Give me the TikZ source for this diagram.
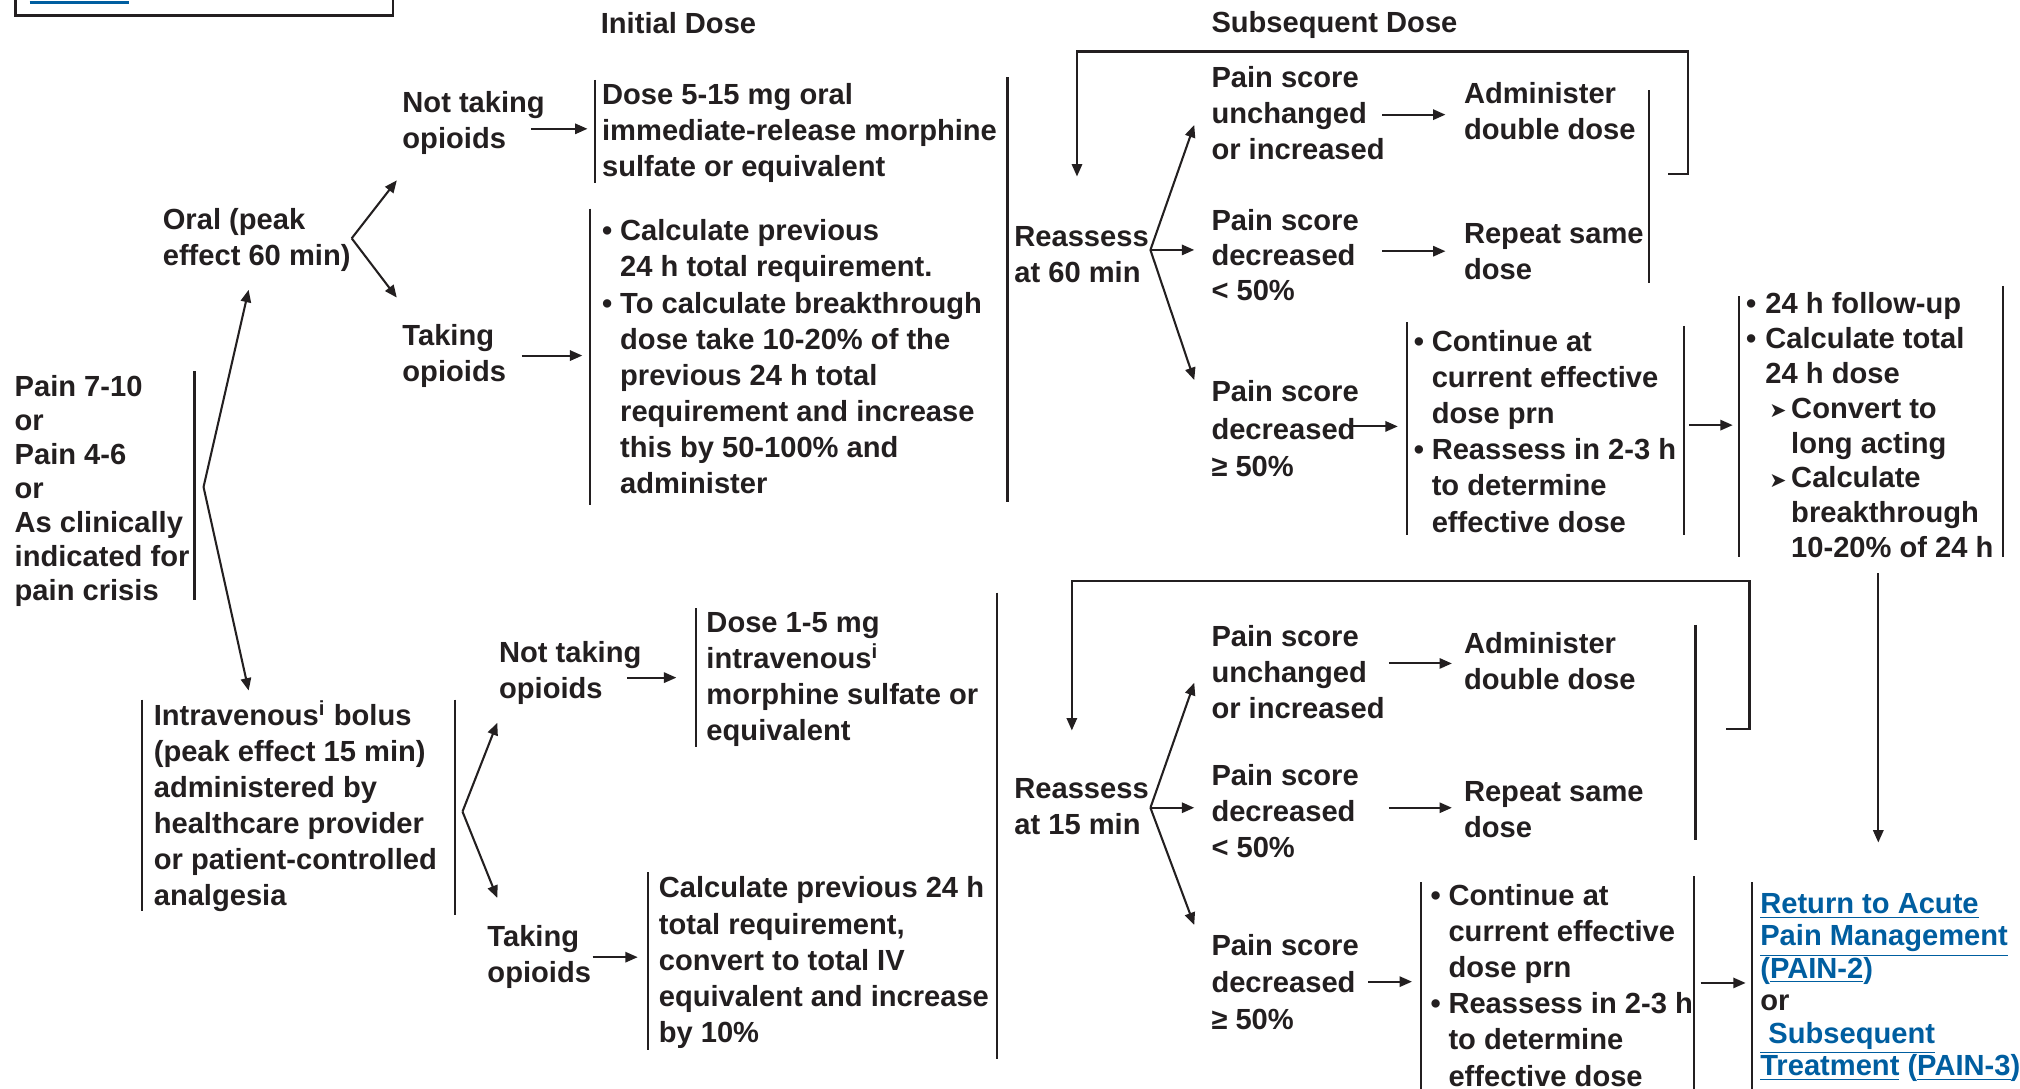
\documentclass[tikz,border=0pt]{standalone}
\usepackage{fontspec}
\setmainfont{Liberation Sans}
\newfontfamily\djv{DejaVu Sans}
\usetikzlibrary{arrows.meta}
\definecolor{ink}{RGB}{35,31,32}
\definecolor{linkblue}{RGB}{0,94,160}
\newcommand\mybul{\makebox[7pt][l]{\textbullet}}
\newcommand\myind{\hspace*{7pt}}
\newcommand\mytri{\makebox[8.5pt][l]{\raisebox{0.3pt}{\djv\fontsize{8}{8}\selectfont ➤}}}
\begin{document}
\begin{tikzpicture}[x=0.5pt,y=-0.5pt,
  txt/.style={anchor=base west, align=left, inner sep=0pt, text=ink,
    font=\fontsize{11.3}{14}\selectfont\bfseries},
  bar/.style={draw=ink, line width=0.9pt},
  arr/.style={draw=ink, line width=0.8pt, -{Triangle[length=4.8pt,width=4pt]}},
  lnk/.style={draw=ink, line width=0.8pt}]
\useasboundingbox (0,0) rectangle (1568,845);
\fill[white] (0,0) rectangle (1568,845);
% partial box at top left
\draw[draw=ink, line width=1pt] (12,-10) -- (12,12) -- (305,12) -- (305,-10);
\draw[linkblue, line width=1pt] (23,2) -- (100,2);
\draw[linkblue, line width=0.9pt] (18,-4) arc[start angle=180, end angle=270, radius=5];
\draw[linkblue, line width=0.9pt] (106,-4) arc[start angle=0, end angle=-90, radius=5];

% headers
\node[txt] (h1) at (466,26) {Initial Dose};
\node[txt] (h2) at (940,25) {Subsequent Dose};

% ---------- left ----------
\node[txt, font=\fontsize{11.3}{13.2}\selectfont\bfseries] (pain) at (11,466)
  {Pain 7-10\\or\\Pain 4-6\\or\\As clinically\\indicated for\\pain crisis};
\draw[bar] (151,288) -- (151,466);
\coordinate (fk0) at (158,378);
\coordinate (oralin) at (193,225);
\coordinate (ivin) at (193,536);
\draw[arr] (fk0) -- (oralin);
\draw[arr] (fk0) -- (ivin);

% ---------- oral branch ----------
\node[txt] (oral) at (126,206) {Oral (peak\\effect 60 min)};
\coordinate (fk1) at (273,185);
\coordinate (nt1in) at (308,140);
\coordinate (t1in) at (308,231);
\draw[arr] (fk1) -- (nt1in);
\draw[arr] (fk1) -- (t1in);

\node[txt] (nt1) at (312,115) {Not taking\\opioids};
\coordinate (nt1out) at (412,100);
\coordinate (d1in) at (456,100);
\draw[arr] (nt1out) -- (d1in);
\draw[bar] (462,62) -- (462,142);
\node[txt] (d1) at (467,137) {Dose 5-15 mg oral\\immediate-release morphine\\sulfate or equivalent};

\node[txt] (t1) at (312,296) {Taking\\opioids};
\coordinate (t1out) at (405,276);
\coordinate (c1in) at (452,276);
\draw[arr] (t1out) -- (c1in);
\draw[bar] (458,162) -- (458,392);
\node[txt] (c1) at (467,383) {\mybul Calculate previous\\\myind 24 h total requirement.\\\mybul To calculate breakthrough\\\myind dose take 10-20\% of the\\\myind previous 24 h total\\\myind requirement and increase\\\myind this by 50-100\% and\\\myind administer};

\draw[bar] (782,60) -- (782,390);
\node[txt] (r60) at (787,219) {Reassess\\at 60 min};
\coordinate (fk2) at (893,194);
\coordinate (u1in) at (927,97);
\coordinate (l1in) at (927,194);
\coordinate (g1in) at (927,295);
\draw[arr] (fk2) -- (u1in);
\draw[arr] (fk2) -- (l1in);
\draw[arr] (fk2) -- (g1in);

\node[txt] (u1) at (940,124) {Pain score\\unchanged\\or increased};
\coordinate (u1out) at (1073,89);
\coordinate (a1in) at (1122,89);
\draw[arr] (u1out) -- (a1in);
\node[txt] (a1) at (1136,108) {Administer\\double dose};

\node[txt, font=\fontsize{11.3}{13.6}\selectfont\bfseries] (l1) at (940,233) {Pain score\\decreased\\< 50\%};
\coordinate (l1out) at (1073,195);
\coordinate (s1in) at (1122,195);
\draw[arr] (l1out) -- (s1in);
\node[txt] (s1) at (1136,217) {Repeat same\\dose};
\draw[bar] (1280,70) -- (1280,220);

\coordinate (lp1a) at (1295,135);
\coordinate (lp1b) at (836,137);
\draw[lnk, -{Triangle[length=4.8pt,width=4pt]}] (lp1a) -- (1310,135) -- (1310,40) -- (836,40) -- (lp1b);

\node[txt, font=\fontsize{11.3}{14.5}\selectfont\bfseries] (g1) at (940,370) {Pain score\\decreased\\≥ 50\%};
\coordinate (g1out) at (1047,331);
\coordinate (e1in) at (1085,331);
\draw[arr] (g1out) -- (e1in);
\draw[bar] (1092,250) -- (1092,415);
\node[txt] (e1) at (1097,413) {\mybul Continue at\\\myind current effective\\\myind dose prn\\\mybul Reassess in 2-3 h\\\myind to determine\\\myind effective dose};
\draw[bar] (1307,253) -- (1307,415);
\coordinate (e1out) at (1311,330);
\coordinate (f1in) at (1345,330);
\draw[arr] (e1out) -- (f1in);
\draw[bar] (1350,230) -- (1350,432);
\node[txt, font=\fontsize{11.3}{13.55}\selectfont\bfseries] (f1) at (1355,433)
  {\makebox[7.5pt][l]{\textbullet}24 h follow-up\\\makebox[7.5pt][l]{\textbullet}Calculate total\\\hspace*{7.5pt}24 h dose\\\hspace*{9pt}\mytri Convert to\\\hspace*{17.5pt}long acting\\\hspace*{9pt}\mytri Calculate\\\hspace*{17.5pt}breakthrough\\\hspace*{17.5pt}10-20\% of 24 h};
\draw[bar] (1555,222) -- (1555,432);
\coordinate (f1out) at (1458,445);
\coordinate (rtin) at (1458,654);
\draw[arr] (f1out) -- (rtin);

% ---------- IV branch ----------
\draw[bar] (110,543) -- (110,707);
\node[txt] (iv) at (119,703) {Intravenous\textsuperscript{i} bolus\\(peak effect 15 min)\\administered by\\healthcare provider\\or patient-controlled\\analgesia};
\draw[bar] (353,543) -- (353,710);
\coordinate (fk3) at (359,630);
\coordinate (nt2in) at (386,561);
\coordinate (t2in) at (386,697);
\draw[arr] (fk3) -- (nt2in);
\draw[arr] (fk3) -- (t2in);

\node[txt] (nt2) at (387,542) {Not taking\\opioids};
\coordinate (nt2out) at (487,526);
\coordinate (d2in) at (525,526);
\draw[arr] (nt2out) -- (d2in);
\draw[bar] (540,472) -- (540,580);
\node[txt] (d2) at (548,575) {Dose 1-5 mg\\intravenous\textsuperscript{i}\\morphine sulfate or\\equivalent};

\node[txt] (t2) at (378,763) {Taking\\opioids};
\coordinate (t2out) at (460,743);
\coordinate (c2in) at (495,743);
\draw[arr] (t2out) -- (c2in);
\draw[bar] (503,677) -- (503,815);
\node[txt] (c2) at (511,809) {Calculate previous 24 h\\total requirement,\\convert to total IV\\equivalent and increase\\by 10\%};

\draw[bar] (774,460) -- (774,822);
\node[txt] (r15) at (787,648) {Reassess\\at 15 min};
\coordinate (fk4) at (893,627);
\coordinate (u2in) at (927,530);
\coordinate (l2in) at (927,627);
\coordinate (g2in) at (927,718);
\draw[arr] (fk4) -- (u2in);
\draw[arr] (fk4) -- (l2in);
\draw[arr] (fk4) -- (g2in);

\node[txt] (u2) at (940,558) {Pain score\\unchanged\\or increased};
\coordinate (u2out) at (1078,515);
\coordinate (a2in) at (1127,515);
\draw[arr] (u2out) -- (a2in);
\node[txt] (a2) at (1136,535) {Administer\\double dose};

\node[txt] (l2) at (940,666) {Pain score\\decreased\\< 50\%};
\coordinate (l2out) at (1078,627);
\coordinate (s2in) at (1127,627);
\draw[arr] (l2out) -- (s2in);
\node[txt] (s2) at (1136,650) {Repeat same\\dose};
\draw[bar] (1316,485) -- (1316,652);

\coordinate (lp2a) at (1340,566);
\coordinate (lp2b) at (832,567);
\draw[lnk, -{Triangle[length=4.8pt,width=4pt]}] (lp2a) -- (1358,566) -- (1358,451) -- (832,451) -- (lp2b);

\node[txt, font=\fontsize{11.3}{14.3}\selectfont\bfseries] (g2) at (940,799) {Pain score\\decreased\\≥ 50\%};
\coordinate (g2out) at (1062,762);
\coordinate (e2in) at (1096,762);
\draw[arr] (g2out) -- (e2in);
\draw[bar] (1103,685) -- (1103,850);
\node[txt] (e2) at (1110,843) {\mybul Continue at\\\myind current effective\\\myind dose prn\\\mybul Reassess in 2-3 h\\\myind to determine\\\myind effective dose};
\draw[bar] (1315,680) -- (1315,850);
\coordinate (e2out) at (1320,763);
\coordinate (rtin2) at (1355,763);
\draw[arr] (e2out) -- (rtin2);
\draw[bar] (1360,685) -- (1360,850);
\node[txt, text=linkblue, font=\fontsize{11.3}{12.6}\selectfont\bfseries] (rt) at (1366,835)
  {\underline{Return to Acute}\\\underline{Pain Management}\\(\underline{PAIN-2})\\{\color{ink}or}\\\underline{\ Subsequent}\\\underline{Treatment} (\underline{PAIN-3})};
\end{tikzpicture}
\end{document}
